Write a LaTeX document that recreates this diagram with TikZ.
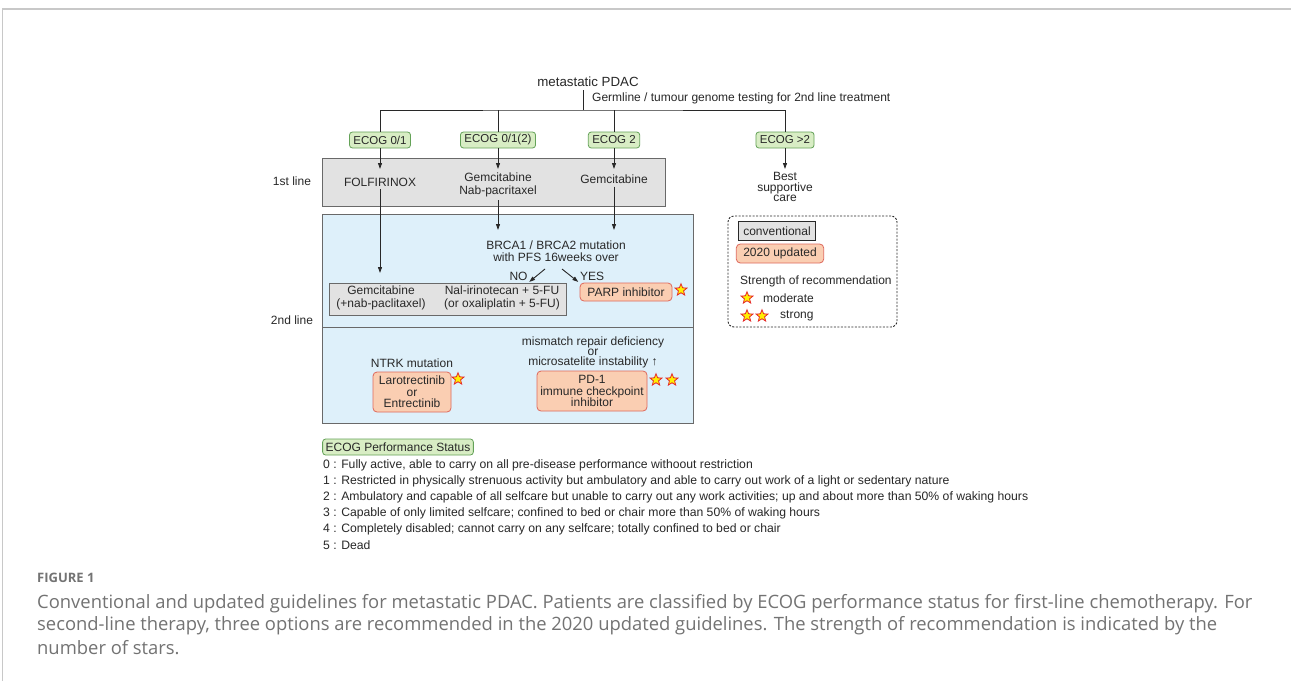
\documentclass[tikz,border=0pt]{standalone}
\usepackage{fontspec}
\setmainfont{Liberation Sans}
\newfontfamily\capfont{Open Sans}
\usetikzlibrary{arrows.meta, positioning, shapes.geometric, calc}
\definecolor{txtgray}{RGB}{40,40,40}
\definecolor{ecoggreen}{RGB}{216,237,196}
\definecolor{ecogedge}{RGB}{100,162,88}
\definecolor{convgray}{RGB}{226,226,226}
\definecolor{linegray}{RGB}{105,105,105}
\definecolor{secondblue}{RGB}{222,240,250}
\definecolor{updfill}{RGB}{250,206,178}
\definecolor{updedge}{RGB}{222,104,92}
\definecolor{starred}{RGB}{230,40,40}
\definecolor{staryellow}{RGB}{255,240,0}
\definecolor{captiongray}{RGB}{115,115,115}
\definecolor{framegray}{RGB}{200,200,200}
\tikzset{
  conn/.style={draw=txtgray, line width=0.9pt},
  arr/.style={conn, -{Triangle[length=6pt,width=4pt]}},
  ecog/.style={draw=ecogedge, fill=ecoggreen, rounded corners=3pt, line width=0.8pt,
    inner xsep=4pt, inner ysep=0pt, minimum height=16pt, font=\fontsize{11.5}{12.5}\selectfont},
  firstbox/.style={draw=linegray, fill=convgray, line width=1pt, inner sep=0pt},
  secbox/.style={draw=linegray, fill=secondblue, line width=1pt, inner sep=0pt},
  upd/.style={draw=updedge, fill=updfill, rounded corners=4pt, line width=0.8pt,
    inner sep=0pt, align=center},
  treat/.style={align=center, inner sep=3pt},
  starmark/.style={star, star points=5, star point ratio=2.3, draw=starred,
    fill=staryellow, line width=0.8pt, minimum size=12.5pt, inner sep=0pt},
}
\begin{document}
\begin{tikzpicture}[x=1pt, y=-1pt, every node/.style={text=txtgray},
  font=\fontsize{12}{12.5}\selectfont]
\useasboundingbox (0,0) rectangle (1291,681);
\fill[white] (0,0) rectangle (1291,681);
\draw[framegray, line width=1.2pt] (2.5,681) -- (2.5,9) -- (1291,9);

% boxes
\node[firstbox, minimum width=343pt, minimum height=48pt] (first) at (493.5,182) {};
\node[secbox, minimum width=371pt, minimum height=113pt] (sectop) at (507.5,270.5) {};
\node[secbox, minimum width=371pt, minimum height=96pt] (secbot) at (507.5,375) {};
\node[firstbox, minimum width=237pt, minimum height=32pt] (g2) at (447.5,299) {};

\node (pdac) at (588,82) {\fontsize{13.3}{15}\selectfont metastatic PDAC};
\node[anchor=west, inner sep=0pt] (germ) at (592,98) {Germline / tumour genome testing for 2nd line treatment};
\node[ecog] (e1) at (380,140) {ECOG 0/1};
\node[ecog] (e2) at (498,140) {ECOG 0/1(2)};
\node[ecog] (e3) at (614,140) {ECOG 2};
\node[ecog] (e4) at (785,140) {ECOG >2};
\coordinate (split) at (583,110);
\coordinate (tip1) at (0,169);
\coordinate (tip2) at (0,273);
\coordinate (tip3) at (0,230);
\draw[conn] (pdac.south -| split) -- (split);
\draw[conn] (e1.north) |- (split) -| (e4.north);
\draw[conn] (e2.north) -- (e2.north |- split);
\draw[conn] (e3.north) -- (e3.north |- split);

\node (l1) at (292,181) {1st line};
\node (l2) at (292,320) {2nd line};

\node[treat] (t1) at (380,182) {FOLFIRINOX};
\node[treat] (t2) at (498,185) {Gemcitabine\\Nab-pacritaxel};
\node[treat] (t3) at (614,179) {Gemcitabine};
\node[align=center, font=\fontsize{12}{10.5}\selectfont] (bsc) at (785,187) {Best\\supportive\\care};
\draw[arr] (e1) -- (e1 |- tip1);
\draw[arr] (e2) -- (e2 |- tip1);
\draw[arr] (e3) -- (e3 |- tip1);
\draw[arr] (e4) -- (e4 |- tip1);

% 2nd line
\node[align=center] (brca) at (556,251) {BRCA1 / BRCA2 mutation\\with PFS 16weeks over};
\draw[arr] (t1) -- (t1 |- tip2);
\draw[arr] (t2) -- (t2 |- tip3);
\draw[arr] (t3) -- (t3 |- tip3);
\node[inner sep=1.5pt] (no) at (518.5,276) {NO};
\node[inner sep=1.5pt] (yes) at (592,276) {YES};
\coordinate (nostart) at (545,269);
\coordinate (yesstart) at (562,269);
\draw[arr] (nostart) -- (no.south east);
\draw[arr] (yesstart) -- (yes.south west);
\node[treat] (g2a) at (381,298) {Gemcitabine\\(+nab-paclitaxel)};
\node[treat] (g2b) at (502,298) {Nal-irinotecan + 5-FU\\(or oxaliplatin + 5-FU)};
\node[upd, minimum width=92pt, minimum height=18pt] (parp) at (626,292) {PARP inhibitor};
\node[starmark] (s1) at (681,290) {};

\node (ntrk) at (412,363) {NTRK mutation};
\node[upd, minimum width=78pt, minimum height=40pt, font=\fontsize{12}{11.5}\selectfont] (laro) at (412,392) {Larotrectinib\\or\\Entrectinib};
\node[starmark] (s2) at (458,379) {};
\node[align=center, font=\fontsize{12}{10}\selectfont] (mmr) at (593,352) {mismatch repair deficiency\\or\\microsatelite instability ↑};
\node[upd, minimum width=110pt, minimum height=40pt, font=\fontsize{12}{11.5}\selectfont] (pd1) at (592,391) {PD-1\\immune checkpoint\\inhibitor};
\node[starmark] (s3) at (656,380) {};
\node[starmark] (s4) at (672,380) {};

% legend
\node[draw=txtgray, dash pattern=on 2pt off 1.5pt, line width=0.9pt, rounded corners=6pt,
  minimum width=169pt, minimum height=111pt] (leg) at (812.5,271.5) {};
\node[firstbox, draw=txtgray, inner xsep=4.5pt, minimum height=19pt] (conv) at (777,231) {conventional};
\node[upd, inner xsep=7pt, minimum height=19pt] (upd) at (780,253.5) {2020 updated};
\node[anchor=west, inner sep=0pt] (strength) at (740,281) {Strength of recommendation};
\node[starmark] (s5) at (747,298) {};
\node[anchor=west, inner sep=0pt] (moder) at (763,298) {moderate};
\node[starmark] (s6) at (747,316) {};
\node[starmark] (s7) at (762,316) {};
\node[anchor=west, inner sep=0pt] (strong) at (780,316) {strong};

% ECOG performance status
\node[ecog, inner xsep=3pt, font=\fontsize{12}{13}\selectfont] (ps) at (398,447) {ECOG Performance Status};
\foreach \txt [count=\i from 0] in {
  {0 : Fully active, able to carry on all pre-disease performance withoout restriction},
  {1 : Restricted in physically strenuous activity but ambulatory and able to carry out work of a light or sedentary nature},
  {2 : Ambulatory and capable of all selfcare but unable to carry out any work activities; up and about more than 50\% of waking hours},
  {3 : Capable of only limited selfcare; confined to bed or chair more than 50\% of waking hours},
  {4 : Completely disabled; cannot carry on any selfcare; totally confined to bed or chair},
  {5 : Dead}}
  \node[anchor=west, inner sep=0pt, font=\fontsize{12.2}{13}\selectfont] (ps\i) at (323,465+16*\i) {\txt};

% caption
\node[anchor=west, inner sep=0pt, text=captiongray, font=\capfont\bfseries\fontsize{13}{15}\selectfont] (fig) at (37,578) {FIGURE 1};
\foreach \txt [count=\i from 0] in {
  {Conventional and updated guidelines for metastatic PDAC. Patients are classified by ECOG performance status for first-line chemotherapy. For},
  {second-line therapy, three options are recommended in the 2020 updated guidelines. The strength of recommendation is indicated by the},
  {number of stars.}}
  \node[anchor=west, inner sep=0pt, text=captiongray, font=\capfont\fontsize{18.4}{20}\selectfont] (cap\i) at (37,604+22*\i) {\txt};
\end{tikzpicture}
\end{document}
